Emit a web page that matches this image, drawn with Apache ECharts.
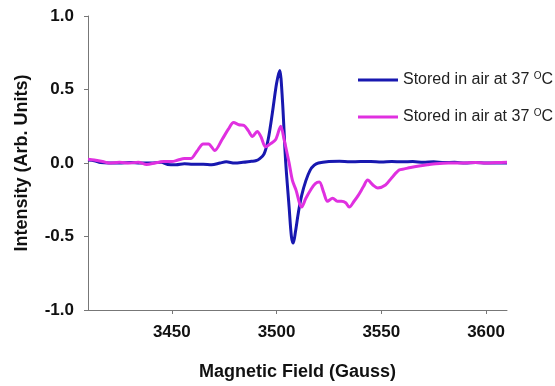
<!DOCTYPE html>
<html>
<head>
<meta charset="utf-8">
<script src="https://cdn.jsdelivr.net/npm/echarts@6/dist/echarts.min.js"></script>
<style>
html,body{margin:0;padding:0;background:#fff;}
#chart{width:555px;height:386px;}
</style>
</head>
<body>
<div id="chart"></div>
<script>
var seriesNames = ['Stored in air at 37 OC', 'Stored in air at 37 OC\u200b'];
var xTicks = [3450, 3500, 3550, 3600];
var yTicks = [-1.0, -0.5, 0.0, 0.5, 1.0];

var fieldBlue = [3410,3413,3416,3420,3425,3430,3435,3440,3445,3448,3452,3456,3460,3465,3469,3473,3476,3480,3484,3488,3490,3492,3494,3496,3498,3500,3501.5,3502.8,3504.3,3506,3507.1,3508,3509,3510.5,3512,3514,3516,3518,3520,3525,3530,3535,3540,3545,3550,3555,3560,3565,3570,3575,3580,3585,3590,3595,3600,3605,3610];
var intensityBlue = [0.02,0.015,0.003,0.0,0.0,0.003,0.0,0.0,0.005,-0.01,-0.012,-0.005,-0.008,-0.008,-0.012,0.0,0.008,0.0,0.005,0.012,0.015,0.03,0.06,0.16,0.34,0.54,0.63,0.43,0.02,-0.3,-0.5,-0.545,-0.47,-0.33,-0.22,-0.12,-0.05,-0.015,0.0,0.01,0.012,0.008,0.01,0.01,0.006,0.01,0.008,0.01,0.005,0.008,0.003,0.005,0.0,0.003,0.0,0.0,0.0];

var fieldMagenta = [3410,3413,3417,3420,3425,3430,3434,3438,3442,3446,3450,3453,3456,3459,3462,3465,3467.5,3470.5,3474,3477,3479.5,3482,3484.5,3486.5,3488.5,3490.8,3492.5,3494.8,3497,3499.6,3502,3503.6,3506,3507.6,3509.2,3512,3514,3516.4,3518.5,3520.4,3522.5,3524.3,3526.8,3529,3531,3533,3534.7,3537,3539,3541.5,3543.5,3546,3548.3,3552,3555,3558.5,3561,3564,3568,3572,3576,3582,3588,3595,3600,3605,3610];
var intensityMagenta = [0.025,0.02,0.01,0.0,0.005,0.0,0.005,-0.01,0.0,0.01,0.01,0.02,0.03,0.03,0.08,0.13,0.13,0.085,0.16,0.23,0.275,0.26,0.255,0.22,0.18,0.215,0.18,0.11,0.13,0.16,0.25,0.16,0.0,-0.12,-0.18,-0.3,-0.24,-0.18,-0.14,-0.13,-0.2,-0.26,-0.24,-0.26,-0.26,-0.27,-0.3,-0.26,-0.22,-0.16,-0.116,-0.15,-0.17,-0.15,-0.1,-0.048,-0.04,-0.03,-0.02,-0.012,-0.005,0.0,0.0,0.003,0.0,0.003,0.005];

function pairs(xs, ys){ return xs.map(function(x,i){ return [x, ys[i]]; }); }

var font = "'Liberation Sans', Arial, sans-serif";
var chart = echarts.init(document.getElementById('chart'), null, {renderer:'canvas'});
chart.setOption({
  animation: false,
  backgroundColor: '#ffffff',
  grid: {left: 88, right: 48, top: 16, bottom: 76, containLabel: false},
  legend: {
    orient: 'vertical',
    left: 353,
    top: 66,
    icon: 'rect',
    itemWidth: 40,
    itemHeight: 3,
    itemGap: 20,
    data: seriesNames,
    formatter: function(){ return '{a|Stored in air at 37 }{s|O}{a|C}'; },
    textStyle: {
      fontFamily: font, fontSize: 16, color: '#222',
      rich: {
        a: {fontFamily: font, fontSize: 16, color: '#222'},
        s: {fontFamily: font, fontSize: 10, color: '#222', verticalAlign: 'top', padding: [0,0,8,0]}
      }
    }
  },
  xAxis: {
    type: 'value',
    min: 3410, max: 3610,
    name: 'Magnetic Field (Gauss)',
    nameLocation: 'middle',
    nameGap: 53,
    nameTextStyle: {fontFamily: font, fontSize: 18, fontWeight: 'bold', color: '#111'},
    axisLine: {show: true, onZero: false, lineStyle: {color: '#777', width: 1}},
    axisTick: {show: true, length: 4, customValues: xTicks, lineStyle: {color: '#777'}},
    axisLabel: {customValues: xTicks, margin: 14, fontFamily: font, fontSize: 17, fontWeight: 'bold', color: '#111',
      formatter: function(v){ return String(Math.round(v)); }},
    splitLine: {show: false}
  },
  yAxis: {
    type: 'value',
    min: -1, max: 1, interval: 0.5,
    name: 'Intensity (Arb. Units)',
    nameLocation: 'middle',
    nameRotate: 90,
    nameGap: 57,
    nameTextStyle: {fontFamily: font, fontSize: 18, fontWeight: 'bold', color: '#111'},
    axisLine: {show: true, lineStyle: {color: '#777', width: 1}},
    axisTick: {show: true, length: 4, lineStyle: {color: '#777'}},
    axisLabel: {margin: 14, fontFamily: font, fontSize: 17, fontWeight: 'bold', color: '#111',
      formatter: function(v){ return v.toFixed(1); }},
    splitLine: {show: false}
  },
  series: [
    {
      name: seriesNames[0], type: 'line', symbol: 'none', smooth: 0.3,
      data: pairs(fieldBlue, intensityBlue),
      itemStyle: {color: '#1818b0'},
      lineStyle: {color: '#1818b0', width: 3}
    },
    {
      name: seriesNames[1], type: 'line', symbol: 'none', smooth: 0.3,
      data: pairs(fieldMagenta, intensityMagenta),
      itemStyle: {color: '#e030e0'},
      lineStyle: {color: '#e030e0', width: 3}
    }
  ]
});
</script>
</body>
</html>
